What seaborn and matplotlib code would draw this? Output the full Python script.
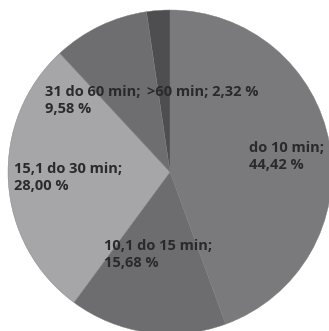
import matplotlib
matplotlib.use("Agg")
import matplotlib.pyplot as plt
import seaborn as sns

# Commute duration shares
categories = ["do 10 min", "10,1 do 15 min", "15,1 do 30 min", "31 do 60 min", ">60 min"]
shares = [44.42, 15.68, 28.00, 9.58, 2.32]
colors = ["#7a7a7c", "#6d6d6f", "#a6a6a8", "#6e6e70", "#4e4e50"]

# label anchor points (left edge, vertical middle) in pie units, and line layout
label_pos = [(0.49, 0.095), (-0.405, -0.51), (-0.965, -0.035), (-0.77, 0.44), (-0.14, 0.495)]
label_sep = ["\n", "\n", "\n", "\n", " "]

sns.set_theme(style="white")
plt.rcParams["font.family"] = ["Open Sans", "DejaVu Sans"]

fig = plt.figure(figsize=(3.29, 3.31), dpi=100)
fig.patch.set_facecolor("white")
ax = fig.add_axes([8 / 329, -3 / 331, 324 / 329, 324 / 331])

ax.pie(shares, colors=colors, startangle=90, counterclock=False, radius=1.0,
       wedgeprops=dict(linewidth=0.3, edgecolor="#7e7e80"))
ax.set_xlim(-1, 1)
ax.set_ylim(-1, 1)
ax.set_aspect("equal")
ax.axis("off")

for cat, val, (x, y), sep in zip(categories, shares, label_pos, label_sep):
    txt = f"{cat};{sep}{val:.2f} %".replace(".", ",")
    ax.text(x, y, txt, ha="left", va="center", fontsize=10.5, fontweight="bold",
            color="#2a2a2a", linespacing=1.3)

fig.savefig("out.png", dpi=100)
